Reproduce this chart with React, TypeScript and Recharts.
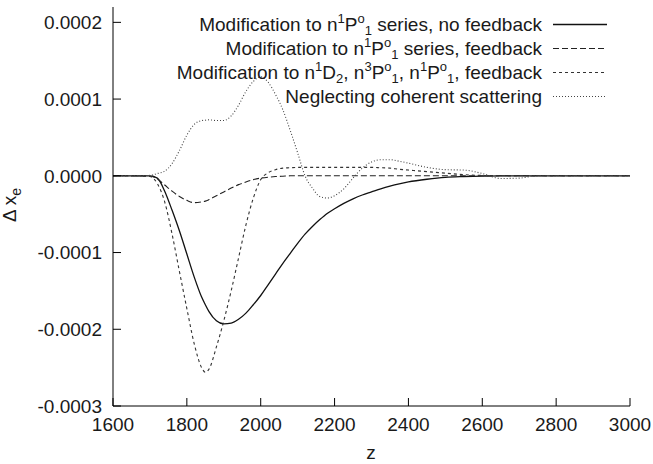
import { LineChart, Line, XAxis, YAxis, Legend, Label } from 'recharts'

const FONT = '"Liberation Sans", Arial, Helvetica, sans-serif'

// redshift grid
const zValues = [
  1600, 1650, 1700, 1720, 1740, 1760, 1780, 1800, 1820, 1840, 1850, 1860, 1880, 1900, 1920, 1940,
  1960, 1980, 2000, 2020, 2040, 2060, 2080, 2100, 2120, 2140, 2160, 2180, 2200, 2225, 2250, 2275,
  2300, 2325, 2350, 2375, 2400, 2450, 2500, 2550, 2600, 2650, 2700, 2750, 2800, 2900, 3000,
]

// Δx_e, in units of 1e-5
const noFeedback = [
  0, 0, -0.02, -0.3, -2.0, -4.5, -7.2, -10.2, -13.2, -15.8, -16.8, -17.7, -18.9, -19.3, -19.2, -18.7,
  -17.9, -16.8, -15.6, -14.2, -12.8, -11.4, -10.1, -8.8, -7.6, -6.6, -5.7, -4.9, -4.3, -3.6, -3.0, -2.5,
  -2.1, -1.7, -1.35, -1.05, -0.8, -0.45, -0.2, -0.1, -0.04, 0, 0, 0, 0, 0, 0,
]
const withFeedback = [
  0, 0, -0.05, -0.4, -1.2, -2.0, -2.7, -3.2, -3.5, -3.4, -3.3, -3.1, -2.6, -2.1, -1.6, -1.15,
  -0.8, -0.5, -0.3, -0.18, -0.1, -0.05, 0, 0, 0, 0, 0, 0, 0, 0, 0, 0,
  0, 0, 0, 0, 0, 0, 0, 0, 0, 0, 0, 0, 0, 0, 0,
]
const threeSeries = [
  0, 0, -0.1, -1.0, -3.4, -7.6, -12.5, -17.3, -21.9, -25.0, -25.6, -25.2, -22.3, -18.9, -15.0, -10.7,
  -6.4, -2.9, -0.5, 0.4, 0.8, 1.0, 1.05, 1.1, 1.1, 1.1, 1.1, 1.1, 1.1, 1.1, 1.1, 1.1,
  1.1, 1.05, 1.0, 0.85, 0.75, 0.55, 0.35, 0.15, 0.05, 0, 0, 0, 0, 0, 0,
]
const noCoherent = [
  0, 0, 0.05, 0.3, 0.6, 1.6, 3.3, 5.3, 6.7, 7.2, 7.25, 7.3, 7.2, 7.2, 7.8, 9.2,
  11.0, 12.3, 12.9, 12.2, 10.6, 8.6, 5.9, 3.0, 0, -1.6, -2.7, -2.9, -2.6, -1.7, -0.3, 1.0,
  1.8, 2.1, 2.1, 1.9, 1.65, 1.1, 0.8, 0.75, 0.3, -0.35, -0.3, 0, 0, 0, 0,
]

const xTicks = [1600, 1800, 2000, 2200, 2400, 2600, 2800, 3000]
const yTicks = [-0.0003, -0.0002, -0.0001, 0, 0.0001, 0.0002]

type Seg = { t: string; s?: 'sup' | 'sub' }
const legendLabels: Seg[][] = [
  [{ t: 'Modification to n' }, { t: '1', s: 'sup' }, { t: 'P' }, { t: 'o', s: 'sup' }, { t: '1', s: 'sub' }, { t: ' series, no feedback' }],
  [{ t: 'Modification to n' }, { t: '1', s: 'sup' }, { t: 'P' }, { t: 'o', s: 'sup' }, { t: '1', s: 'sub' }, { t: ' series, feedback' }],
  [
    { t: 'Modification to n' }, { t: '1', s: 'sup' }, { t: 'D' }, { t: '2', s: 'sub' }, { t: ', n' }, { t: '3', s: 'sup' },
    { t: 'P' }, { t: 'o', s: 'sup' }, { t: '1', s: 'sub' }, { t: ', n' }, { t: '1', s: 'sup' }, { t: 'P' }, { t: 'o', s: 'sup' },
    { t: '1', s: 'sub' }, { t: ', feedback' },
  ],
  [{ t: 'Neglecting coherent scattering' }],
]

const series = [
  { key: 'noFeedback', dash: undefined, width: 1.3, color: '#111' },
  { key: 'withFeedback', dash: '6 3', width: 1.1, color: '#222' },
  { key: 'threeSeries', dash: '3 3', width: 1.1, color: '#333' },
  { key: 'noCoherent', dash: '1 2', width: 1.1, color: '#444' },
]

const data = zValues.map((z, i) => ({
  z,
  noFeedback: noFeedback[i] * 1e-5,
  withFeedback: withFeedback[i] * 1e-5,
  threeSeries: threeSeries[i] * 1e-5,
  noCoherent: noCoherent[i] * 1e-5,
}))

const tickStyle = { fontSize: 19, fill: '#1a1a1a', fontFamily: FONT }

function LegendBox() {
  return (
    <div style={{ fontFamily: FONT, fontSize: 19, color: '#1a1a1a' }}>
      {legendLabels.map((segs, i) => (
        <div key={i} style={{ position: 'relative', height: 24, lineHeight: '24px' }}>
          <span style={{ position: 'absolute', right: 653 - 542, top: 1, whiteSpace: 'nowrap' }}>
            {segs.map((sg, j) =>
              sg.s ? (
                <span
                  key={j}
                  style={{
                    fontSize: 13,
                    lineHeight: '13px',
                    position: 'relative',
                    top: sg.s === 'sup' ? -8 : 4,
                  }}
                >
                  {sg.t}
                </span>
              ) : (
                <span key={j}>{sg.t}</span>
              ),
            )}
          </span>
          <svg width={56} height={24} style={{ position: 'absolute', left: 552, top: 0 }}>
            <line
              x1={1}
              x2={55}
              y1={12.5}
              y2={12.5}
              stroke={series[i].color}
              strokeWidth={series[i].width}
              strokeDasharray={series[i].dash}
            />
          </svg>
        </div>
      ))}
    </div>
  )
}

export default function App() {
  return (
    <div style={{ position: 'absolute', left: 0, top: 0, background: '#fff' }}>
      <LineChart
        width={653}
        height={464}
        data={data}
        margin={{ top: 7, right: 23, left: 0, bottom: 0 }}
        style={{ fontFamily: FONT }}
      >
        <XAxis
          dataKey="z"
          type="number"
          domain={[1600, 3000]}
          ticks={xTicks}
          height={58}
          tick={tickStyle}
          tickSize={-8}
          tickMargin={20}
          stroke="#000"
          interval={0}
        >
          <Label
            content={() => (
              <text x={371} y={459} textAnchor="middle" fontSize={19} fill="#1a1a1a" fontFamily={FONT}>
                z
              </text>
            )}
          />
        </XAxis>
        <XAxis
          xAxisId="top"
          orientation="top"
          dataKey="z"
          type="number"
          domain={[1600, 3000]}
          ticks={xTicks}
          height={0}
          tick={false}
          tickSize={-8}
          stroke="#000"
          interval={0}
        />
        <YAxis
          type="number"
          domain={[-0.0003, 0.00022]}
          ticks={yTicks}
          width={113}
          tick={tickStyle}
          tickSize={-8}
          tickMargin={19}
          tickFormatter={(v: number) => v.toFixed(4)}
          stroke="#000"
          interval={0}
          allowDataOverflow
        >
          <Label
            content={() => (
              <text
                x={16}
                y={205}
                transform="rotate(-90, 16, 205)"
                textAnchor="middle"
                fontSize={19}
                fill="#1a1a1a"
                fontFamily={FONT}
              >
                <tspan>Δ x</tspan>
                <tspan dy={5} fontSize={14}>e</tspan>
              </text>
            )}
          />
        </YAxis>
        <YAxis
          yAxisId="right"
          orientation="right"
          type="number"
          domain={[-0.0003, 0.00022]}
          ticks={yTicks}
          width={0}
          tick={false}
          tickSize={-8}
          stroke="#000"
          interval={0}
          allowDataOverflow
        />
        <Legend
          layout="horizontal"
          verticalAlign="middle"
          align="center"
          content={() => <LegendBox />}
          wrapperStyle={{ position: 'absolute', left: 0, top: 12, width: 653, height: 96 }}
        />
        {series.map((s) => (
          <Line
            key={s.key}
            dataKey={s.key}
            type="monotone"
            stroke={s.color}
            strokeWidth={s.width}
            strokeDasharray={s.dash}
            dot={false}
            activeDot={false}
            isAnimationActive={false}
          />
        ))}
      </LineChart>
    </div>
  )
}
